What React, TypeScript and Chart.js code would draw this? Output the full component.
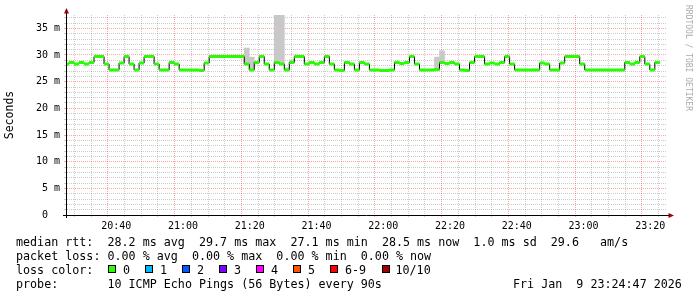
import React, { useEffect, useRef } from 'react';
import { Chart, registerables } from 'chart.js';

Chart.register(...registerables);

// ---- data ----
const FIRST_STEP_START = '20:24:21'; // start of first 90 s step
const STEP_SECONDS = 90;
const AXIS_START = '20:25:15';
const AXIS_END = '23:25:00';

// median RTT in ms, one value per 90 s step
const medianRtt = [
  28.3, 28.6, 28.3, 28.6, 28.3, 28.6, 29.7, 29.7, 28.3, 27.2,
  27.2, 28.5, 29.7, 28.3, 27.2, 28.5, 29.7, 29.7, 28.3, 27.2,
  27.2, 28.6, 28.3, 27.2, 27.2, 27.2, 27.2, 27.1, 28.5, 29.7,
  29.7, 29.7, 29.7, 29.7, 29.7, 29.7, 28.3, 27.2, 28.6, 29.7,
  28.3, 27.2, 28.6, 28.3, 27.2, 28.6, 29.7, 29.7, 28.3, 28.6,
  28.3, 28.6, 29.7, 28.3, 27.2, 27.1, 28.6, 28.3, 27.2, 28.6,
  28.3, 27.2, 27.2, 27.1, 27.1, 27.2, 28.6, 28.4, 28.6, 29.7,
  28.3, 27.2, 27.2, 27.2, 27.3, 28.6, 28.4, 28.6, 28.3, 27.2,
  27.1, 28.6, 29.7, 29.7, 28.3, 28.5, 28.3, 28.6, 29.7, 28.3,
  27.2, 27.2, 27.2, 27.2, 27.2, 28.5, 28.3, 27.2, 27.2, 28.5,
  29.7, 29.7, 29.7, 28.3, 27.2, 27.2, 27.2, 27.2, 27.2, 27.2,
  27.2, 27.2, 28.6, 28.3, 28.6, 29.7, 28.3, 27.2, 28.6,
];

// smoke (ping spread) where visible: step index, low, high (ms)
const smokeIndex = [36, 37, 42, 43, 44, 45, 74, 75];
const smokeLow = [28.3, 27.2, 28.6, 28.3, 27.2, 28.6, 27.3, 28.6];
const smokeHigh = [31.3, 29.6, 37.6, 37.6, 27.6, 29.1, 29.6, 30.8];

const yMax = 37.5;
const yTickValues = Array.from({ length: 38 }, (_, i) => i); // 0..37 ms
const xTickMinutes = Array.from({ length: 36 }, (_, i) => 1230 + i * 5); // 20:30 .. 23:25

const statsLine = 'median rtt:  28.2 ms avg  29.7 ms max  27.1 ms min  28.5 ms now  1.0 ms sd  29.6   am/s';
const lossLine = 'packet loss: 0.00 % avg  0.00 % max  0.00 % min  0.00 % now';
const probeLine = 'probe:       10 ICMP Echo Pings (56 Bytes) every 90s';
const dateText = 'Fri Jan  9 23:24:47 2026';
const lossLabels = ['0', '1', '2', '3', '4', '5', '6-9', '10/10'];
const lossColors = ['#26ff00', '#00b8ff', '#0059ff', '#7e00ff', '#ff00ff', '#ff5500', '#ff0000', '#a10000'];
const lossSquareX = [108, 145, 182, 219, 256, 293, 330, 381.5];
const lossTextX = [123, 160, 197, 234, 271, 308, 345, 395.5];

// ---- helpers ----
const toMin = (hms: string) => {
  const [h, m, s] = hms.split(':').map(Number);
  return h * 60 + m + s / 60;
};
const t0 = toMin(FIRST_STEP_START);
const stepMin = STEP_SECONDS / 60;
const stepStart = (i: number) => t0 + i * stepMin;
const fmtTime = (v: number) => `${Math.floor(v / 60)}:${String(Math.round(v % 60)).padStart(2, '0')}`;

const MONO = 'DejaVu Sans Mono';

const decorPlugin = {
  id: 'decor',
  afterDatasetsDraw(chart: any) {
    const { ctx, chartArea } = chart;
    const { left, right, top, bottom } = chartArea;
    ctx.save();
    ctx.strokeStyle = '#000';
    ctx.lineWidth = 1;
    ctx.beginPath();
    ctx.moveTo(left - 0.5, bottom + 3);
    ctx.lineTo(left - 0.5, top - 5);
    ctx.moveTo(left - 4, bottom + 0.5);
    ctx.lineTo(right + 3, bottom + 0.5);
    ctx.stroke();
    ctx.fillStyle = '#990000';
    // up arrow
    ctx.beginPath();
    ctx.moveTo(left - 0.5, top - 7);
    ctx.lineTo(left - 3, top - 1.5);
    ctx.lineTo(left + 2, top - 1.5);
    ctx.closePath();
    ctx.fill();
    // right arrow
    ctx.beginPath();
    ctx.moveTo(right + 7, bottom + 0.5);
    ctx.lineTo(right + 1.5, bottom - 2);
    ctx.lineTo(right + 1.5, bottom + 3);
    ctx.closePath();
    ctx.fill();
    // watermark
    ctx.translate(chart.width - 9, 5);
    ctx.rotate(Math.PI / 2);
    ctx.font = `8px "${MONO}"`;
    ctx.fillStyle = '#aaaaaa';
    ctx.textBaseline = 'middle';
    ctx.textAlign = 'left';
    ctx.fillText('RRDTOOL / TOBI OETIKER', 0, 0);
    ctx.restore();
  },
};

export default function App() {
  const ref = useRef<HTMLCanvasElement>(null);

  useEffect(() => {
    const blackData = medianRtt.map((v, i) => ({ x: stepStart(i), y: v }));
    blackData.push({ x: stepStart(medianRtt.length), y: medianRtt[medianRtt.length - 1] });

    const greenData: { x: number; y: number | null }[] = [];
    medianRtt.forEach((v, i) => {
      greenData.push({ x: stepStart(i), y: v }, { x: stepStart(i + 1), y: v }, { x: stepStart(i + 1), y: null });
    });

    const smokeData = smokeIndex.map((idx, j) => ({
      x: stepStart(idx) + stepMin / 2,
      y: [smokeLow[j], smokeHigh[j]],
    }));

    const chart = new Chart(ref.current!, {
      type: 'line',
      data: {
        datasets: [
          {
            type: 'bar',
            data: smokeData as any,
            backgroundColor: '#c8c8c8',
            borderWidth: 0,
            barThickness: 5,
            order: 3,
            clip: 0,
          } as any,
          {
            data: blackData,
            borderColor: '#000',
            borderWidth: 1,
            stepped: 'before',
            pointRadius: 0,
            fill: false,
            order: 2,
            clip: 0,
          },
          {
            data: greenData as any,
            borderColor: '#26ff00',
            borderWidth: 3,
            borderCapStyle: 'butt',
            pointRadius: 0,
            spanGaps: false,
            fill: false,
            order: 1,
            clip: 0,
          },
        ],
      },
      options: {
        animation: false,
        responsive: false,
        devicePixelRatio: 1,
        events: [],
        layout: { padding: { top: 15, right: 30, left: 0, bottom: 0 } },
        plugins: { legend: { display: false }, tooltip: { enabled: false } },
        scales: {
          x: {
            type: 'linear',
            min: toMin(AXIS_START),
            max: toMin(AXIS_END),
            offset: false,
            afterBuildTicks: (s: any) => {
              s.ticks = xTickMinutes.map((v) => ({ value: v }));
            },
            afterFit: (s: any) => {
              s.height = 82;
            },
            ticks: {
              autoSkip: false,
              maxRotation: 0,
              minRotation: 0,
              padding: 3,
              color: '#000',
              font: { family: MONO, size: 10 },
              callback: (v: any) => (Number(v) % 20 === 0 ? fmtTime(Number(v)) : ''),
            },
            grid: {
              lineWidth: 1,
              tickLength: 2,
              color: (c: any) => (c.tick && c.tick.value % 20 === 0 ? 'rgba(255,0,0,0.35)' : 'rgba(0,0,0,0.2)'),
            },
            border: { display: false, dash: [1, 1] },
          },
          y: {
            min: 0,
            max: yMax,
            afterBuildTicks: (s: any) => {
              s.ticks = yTickValues.map((v) => ({ value: v }));
            },
            afterFit: (s: any) => {
              s.width = 67;
            },
            ticks: {
              autoSkip: false,
              padding: 4,
              color: '#000',
              font: { family: MONO, size: 10 },
              callback: (v: any) => {
                const n = Number(v);
                if (n % 5 !== 0) return '';
                return n === 0 ? '0  ' : `${n} m`;
              },
            },
            grid: {
              lineWidth: 1,
              tickLength: 3,
              color: (c: any) => (c.tick && c.tick.value % 5 === 0 ? 'rgba(255,0,0,0.35)' : 'rgba(0,0,0,0.2)'),
            },
            border: { display: false, dash: [1, 1] },
            title: {
              display: true,
              text: 'Seconds',
              color: '#000',
              font: { family: MONO, size: 11.5 },
              padding: { top: 3, bottom: 0 },
            },
          },
        },
      },
      plugins: [decorPlugin],
    } as any);
    return () => chart.destroy();
  }, []);

  const textStyle: React.CSSProperties = {
    position: 'absolute',
    left: 16,
    fontFamily: MONO,
    fontSize: 11.7,
    lineHeight: '14px',
    whiteSpace: 'pre',
    color: '#000',
  };

  return (
    <div style={{ position: 'fixed', left: 0, top: 0, width: 697, height: 297, background: '#fff', overflow: 'hidden' }}>
      <canvas ref={ref} width={697} height={297} style={{ position: 'absolute', left: 0, top: 0, width: 697, height: 297 }} />
      <div style={{ ...textStyle, top: 234.5 }}>{statsLine}</div>
      <div style={{ ...textStyle, top: 248.6 }}>{lossLine}</div>
      <div style={{ ...textStyle, top: 262.8 }}>loss color:</div>
      {lossLabels.map((lab, i) => (
        <React.Fragment key={lab}>
          <div
            style={{
              position: 'absolute',
              left: lossSquareX[i],
              top: 265,
              width: 8,
              height: 8,
              boxSizing: 'border-box',
              border: '1px solid #000',
              background: lossColors[i],
            }}
          />
          <div style={{ ...textStyle, left: lossTextX[i], top: 262.8 }}>{lab}</div>
        </React.Fragment>
      ))}
      <div style={{ ...textStyle, top: 276.9 }}>{probeLine}</div>
      <div style={{ ...textStyle, left: 513, top: 276.9 }}>{dateText}</div>
    </div>
  );
}
